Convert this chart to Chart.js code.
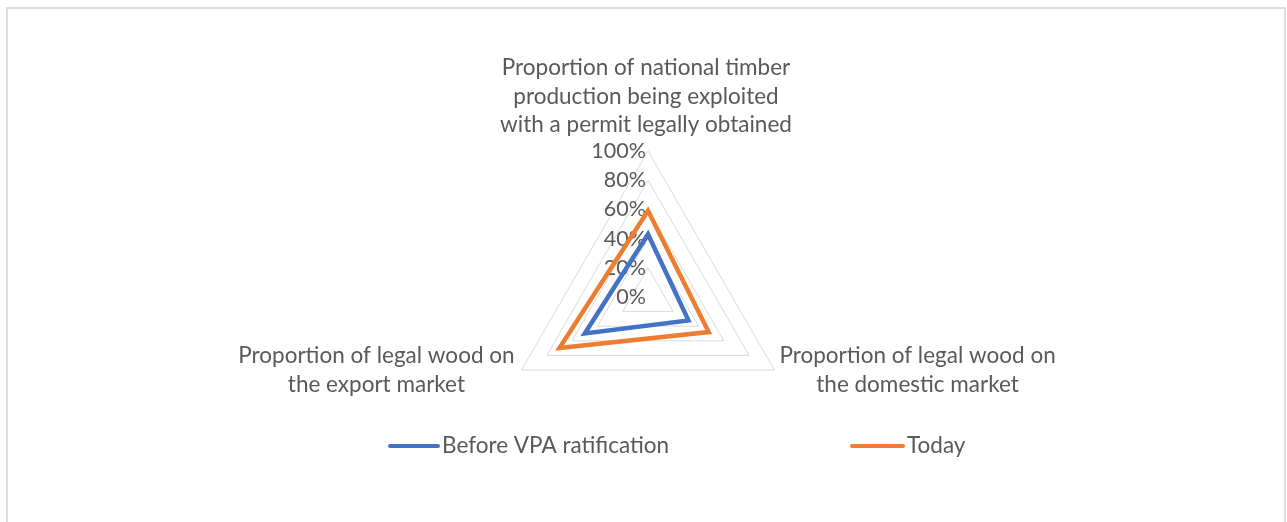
<!DOCTYPE html>
<html>
<head>
<meta charset="utf-8">
<script src="https://cdn.jsdelivr.net/npm/chart.js@4.4.1/dist/chart.umd.min.js"></script>
<style>
  html, body { margin: 0; padding: 0; background: #fff; }
  #wrap { position: relative; width: 1287px; height: 522px; overflow: hidden; }
  #frame { position: absolute; left: 6px; top: 7px; width: 1276px; height: 600px; border: 2px solid #dedede; }
  #chart { position: absolute; left: 0; top: 0; }
</style>
</head>
<body>
<div id="wrap">
  <div id="frame"></div>
  <canvas id="chart" width="1287" height="522"></canvas>
</div>
<script>
// axis names (one line per array entry)
const categories = [
  ['Proportion of national timber', 'production being exploited', 'with a permit legally obtained'],
  ['Proportion of legal wood on', 'the domestic market'],
  ['Proportion of legal wood on', 'the export market']
];
const seriesNames = ['Before VPA ratification', 'Today'];
const beforeVPA = [43, 32, 50];
const today = [59, 48, 70];
const tickValues = [0, 20, 40, 60, 80, 100];

const textColor = '#595959';
const tickFont = '21.5px Lato, "Noto Sans", sans-serif';
const labelFont = '22.5px Lato, "Noto Sans", sans-serif';
const colors = ['#4472C4', '#ED7D31'];

// Excel-style labels: ticks left of the top axis, centred multi-line axis names, wide legend
const excelLabels = {
    id: 'excelLabels',
    beforeDatasetsDraw(chart) {
        const ctx = chart.ctx;
        const r = chart.scales.r;
        ctx.save();
        ctx.fillStyle = textColor;
        ctx.font = tickFont;
        ctx.textAlign = 'right';
        ctx.textBaseline = 'middle';
        tickValues.forEach(v => {
            const d = r.getDistanceFromCenterForValue(v);
            ctx.fillText(v + '%', r.xCenter - 2, r.yCenter - d);
        });
        ctx.restore();
    },
    afterDraw(chart) {
        const ctx = chart.ctx;
        const r = chart.scales.r;
        const lineH = 28.5;
        ctx.save();
        ctx.fillStyle = textColor;
        ctx.font = labelFont;
        ctx.textAlign = 'center';
        ctx.textBaseline = 'middle';

        categories.forEach((lines, i) => {
            const p = r.getPointPosition(i, r.drawingArea);
            const w = Math.max(...lines.map(l => ctx.measureText(l).width));
            let cx, firstY;
            if (i === 0) {
                cx = p.x - 2;
                firstY = p.y - 26 - lineH * (lines.length - 1);
            } else if (i === 1) {
                cx = p.x + 5 + w / 2;
                firstY = p.y - 14;
            } else {
                cx = p.x - 7 - w / 2;
                firstY = p.y - 14;
            }
            lines.forEach((l, k) => ctx.fillText(l, cx, firstY + k * lineH));
        });

        // legend
        const ly = 446;
        const legendX = [[-260, -208], [202, 257]];
        ctx.textAlign = 'left';
        ctx.lineWidth = 4;
        ctx.lineCap = 'round';
        chart.data.datasets.forEach((ds, i) => {
            const x0 = r.xCenter + legendX[i][0];
            const x1 = r.xCenter + legendX[i][1];
            ctx.strokeStyle = ds.borderColor;
            ctx.beginPath();
            ctx.moveTo(x0 + 2, ly);
            ctx.lineTo(x1 - 2, ly);
            ctx.stroke();
            ctx.fillText(ds.label, x1 + 2, ly);
        });
        ctx.restore();
    }
};

new Chart(document.getElementById('chart'), {
    type: 'radar',
    data: {
        labels: categories,
        datasets: [
            { label: seriesNames[0], data: beforeVPA, borderColor: colors[0], backgroundColor: 'transparent' },
            { label: seriesNames[1], data: today, borderColor: colors[1], backgroundColor: 'transparent' }
        ]
    },
    options: {
        responsive: false,
        animation: false,
        devicePixelRatio: 1,
        layout: {
            padding: { top: 151, bottom: 79, left: 448, right: 439 }
        },
        elements: {
            line: { borderWidth: 4.5, fill: false, tension: 0 },
            point: { radius: 0, hoverRadius: 0 }
        },
        plugins: {
            legend: { display: false },
            tooltip: { enabled: false }
        },
        scales: {
            r: {
                min: 0,
                max: 100,
                ticks: { stepSize: 20, display: false },
                grid: { color: '#d9d9d9', lineWidth: 1 },
                angleLines: { display: false },
                pointLabels: { display: false }
            }
        }
    },
    plugins: [excelLabels]
});
</script>
</body>
</html>
